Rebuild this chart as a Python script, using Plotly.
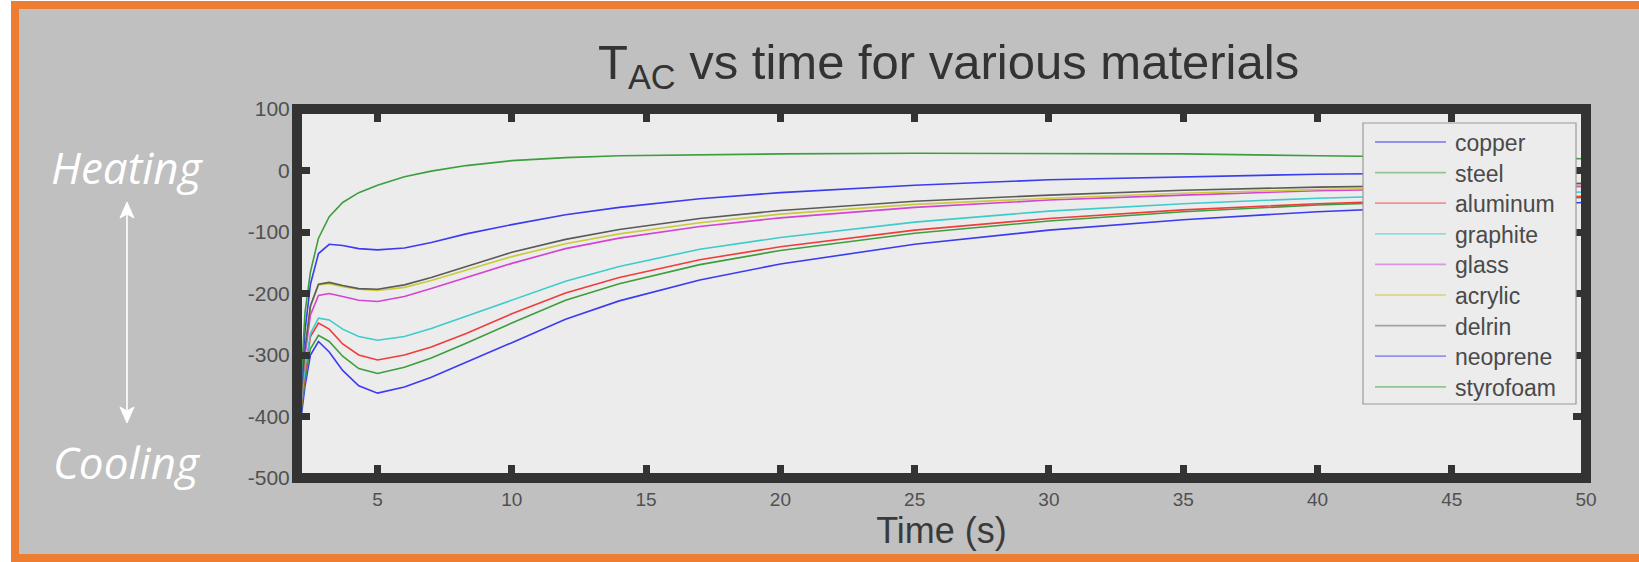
import plotly.graph_objects as go

# ---------------- data ----------------
time_s = [2.0, 2.1, 2.3, 2.5, 2.8, 3.2, 3.7, 4.3, 5, 6, 7, 8.3, 10, 12, 14, 17, 20, 25, 30, 35, 40, 45, 50]

copper    = [-500, -420, -350, -300, -278, -295, -325, -350, -362, -352, -336, -312, -280, -242, -212, -178, -152, -120, -97, -80, -67, -58, -52]
steel     = [-495, -410, -340, -290, -268, -278, -302, -322, -330, -320, -305, -281, -248, -211, -184, -153, -130, -102, -82, -67, -56, -49, -44]
aluminum  = [-490, -405, -330, -270, -248, -258, -282, -300, -308, -300, -287, -265, -233, -199, -174, -145, -124, -97, -78, -64, -54, -47, -42]
graphite  = [-485, -400, -320, -265, -240, -243, -258, -270, -276, -270, -257, -237, -210, -180, -156, -128, -109, -84, -66, -54, -45, -39, -35]
glass     = [-480, -395, -300, -235, -203, -200, -205, -211, -213, -205, -192, -174, -151, -127, -110, -91, -77, -60, -48, -40, -33, -29, -26]
acrylic   = [-480, -395, -290, -222, -186, -184, -189, -193, -195, -190, -179, -162, -140, -119, -103, -85, -71, -55, -45, -37, -31, -27, -24]
delrin    = [-480, -395, -290, -220, -185, -182, -187, -192, -193, -186, -174, -156, -133, -112, -96, -78, -65, -50, -40, -32, -27, -24, -21]
neoprene  = [-470, -380, -260, -185, -135, -120, -122, -127, -129, -126, -117, -103, -88, -72, -60, -46, -36, -24, -15, -10, -6, -4, -3]
styrofoam = [-470, -380, -230, -165, -110, -75, -52, -36, -24, -10, -1, 8, 16, 21, 24, 26, 27, 28, 28, 27, 24, 21, 19]

materials = ["copper", "steel", "aluminum", "graphite", "glass", "acrylic", "delrin", "neoprene", "styrofoam"]
series = [copper, steel, aluminum, graphite, glass, acrylic, delrin, neoprene, styrofoam]

x_ticks = [5, 10, 15, 20, 25, 30, 35, 40, 45, 50]
y_ticks = [100, 0, -100, -200, -300, -400, -500]

# ---------------- styling ----------------
colors = ["#3b3bf2", "#3c9e3c", "#f03c3c", "#3ccccc", "#d443d4", "#caca3c", "#5a5a5a", "#3b3bf2", "#3c9e3c"]
FONT = "Liberation Sans, Arial, sans-serif"

W, H = 1639, 562
ML, MR, MT, MB = 297, 53, 109, 84
PW, PH = W - ML - MR, H - MT - MB


def px(xp):
    return (xp - ML) / PW


def py(yp):
    return (H - MB - yp) / PH


fig = go.Figure()
for name, vals, col in zip(materials, series, colors):
    fig.add_trace(go.Scatter(x=time_s, y=vals, mode="lines", name=name,
                             line=dict(color=col, width=1.6), showlegend=False))

shapes = []
annotations = []

# outer orange border and white strips
shapes.append(dict(type="rect", xref="paper", yref="paper", x0=px(-20), x1=px(11), y0=py(600), y1=py(-20),
                   fillcolor="white", line=dict(width=0), layer="below"))
shapes.append(dict(type="rect", xref="paper", yref="paper", x0=px(15), x1=px(1660), y0=py(558), y1=py(5),
                   fillcolor="rgba(0,0,0,0)", line=dict(color="#ed7d31", width=8), layer="below"))
shapes.append(dict(type="rect", xref="paper", yref="paper", x0=px(-20), x1=px(1660), y0=py(1), y1=py(-20),
                   fillcolor="white", line=dict(width=0), layer="below"))

# thick plot frame
shapes.append(dict(type="rect", xref="paper", yref="paper", x0=0, x1=1, y0=0, y1=1,
                   fillcolor="rgba(0,0,0,0)", line=dict(color="#333333", width=10), layer="above"))

# manual legend (opaque box over the data)
lx0, lx1, ly0, ly1 = 1363, 1576, 123, 404
shapes.append(dict(type="rect", xref="paper", yref="paper", x0=px(lx0), x1=px(lx1), y0=py(ly1), y1=py(ly0),
                   fillcolor="#ececec", line=dict(color="#9a9a9a", width=1.2), layer="above"))
row0, drow = 142, 30.6
for i, (name, col) in enumerate(zip(materials, colors)):
    yy = row0 + i * drow
    shapes.append(dict(type="line", xref="paper", yref="paper", x0=px(1375), x1=px(1446), y0=py(yy), y1=py(yy),
                       line=dict(color=col, width=1.8), opacity=0.5, layer="above"))
    annotations.append(dict(text=name, xref="paper", yref="paper", x=px(1453), y=py(yy + 1),
                            xanchor="left", yanchor="middle", showarrow=False,
                            font=dict(family=FONT, size=23, color="#4a4a4a")))

# title
annotations.append(dict(text="T<sub>AC</sub> vs time for various materials", xref="paper", yref="paper",
                        x=px(948), y=py(66), xanchor="center", yanchor="middle", showarrow=False,
                        font=dict(family=FONT, size=49, color="#333333")))

# heating / cooling labels
annotations.append(dict(text="<i>Heating</i>", xref="paper", yref="paper", x=px(127), y=py(167),
                        xanchor="center", yanchor="middle", showarrow=False,
                        font=dict(family="Open Sans", size=44, color="white")))
annotations.append(dict(text="<i>Cooling</i>", xref="paper", yref="paper", x=px(127), y=py(462),
                        xanchor="center", yanchor="middle", showarrow=False,
                        font=dict(family="Open Sans", size=44, color="white")))

# double-headed arrow between them
ax_, ay_top, ay_bot = 127, 202, 423
shapes.append(dict(type="line", xref="paper", yref="paper", x0=px(ax_), x1=px(ax_), y0=py(ay_top + 4), y1=py(ay_bot - 4),
                   line=dict(color="white", width=1.6), layer="below"))
for tip, dirn in ((ay_top, 1), (ay_bot, -1)):
    pts = [(ax_, tip), (ax_ - 7, tip + dirn * 16), (ax_, tip + dirn * 12), (ax_ + 7, tip + dirn * 16)]
    path = "M " + " L ".join(f"{px(a):.6f},{py(b):.6f}" for a, b in pts) + " Z"
    shapes.append(dict(type="path", xref="paper", yref="paper", path=path,
                       fillcolor="white", line=dict(color="white", width=1), layer="below"))

fig.update_layout(
    width=W, height=H,
    margin=dict(l=ML, r=MR, t=MT, b=MB, pad=0),
    paper_bgcolor="#c0c0c0",
    plot_bgcolor="#ececec",
    shapes=shapes,
    annotations=annotations,
    showlegend=False,
    xaxis=dict(range=[2, 50], tickvals=x_ticks, ticktext=[str(v) for v in x_ticks],
               ticks="inside", ticklen=13, tickwidth=7, tickcolor="#333333",
               showline=True, linewidth=1, linecolor="#333333", mirror="ticks",
               showgrid=False, zeroline=False, ticklabelstandoff=4,
               tickfont=dict(family=FONT, size=19, color="#505050"),
               title=dict(text="Time (s)", standoff=4,
                          font=dict(family=FONT, size=36, color="#3a3a3a"))),
    yaxis=dict(range=[-500, 100], tickvals=y_ticks, ticktext=[str(v) for v in y_ticks],
               ticks="inside", ticklen=13, tickwidth=7, tickcolor="#333333",
               showline=True, linewidth=1, linecolor="#333333", mirror="ticks",
               showgrid=False, zeroline=False, ticklabelstandoff=2,
               tickfont=dict(family=FONT, size=21, color="#505050")),
)

fig.write_html("out.html", config={"displayModeBar": False},
               post_script="document.body.style.margin='0';document.body.style.overflow='hidden';")
